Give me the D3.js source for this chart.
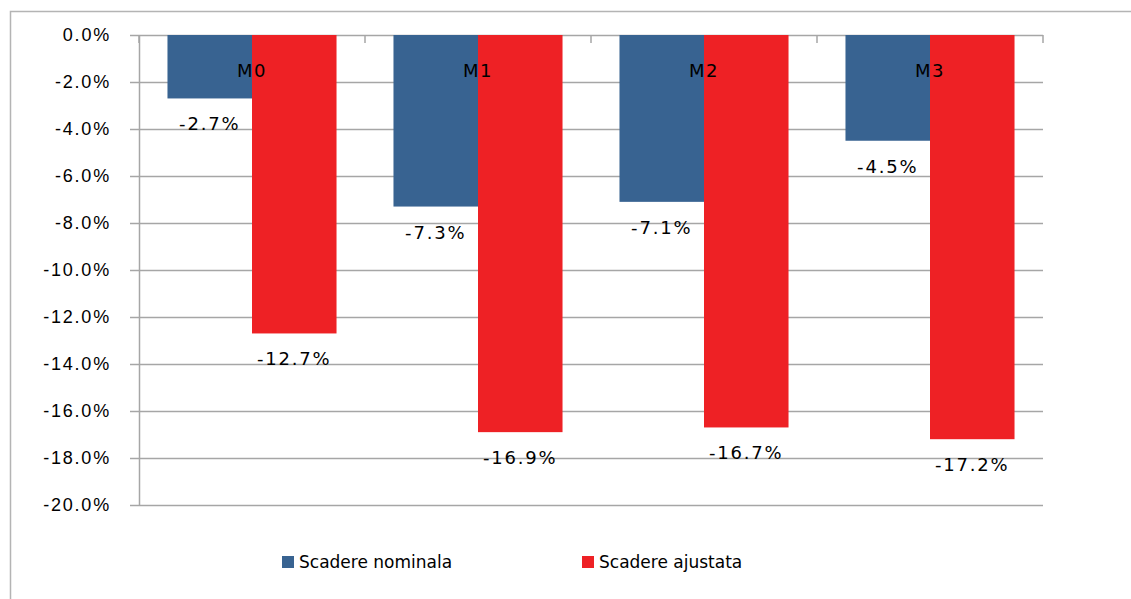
<!DOCTYPE html>
<html>
<head>
<meta charset="utf-8">
<script src="https://cdn.jsdelivr.net/npm/d3@7"></script>
<style>
  body { margin: 0; background: #fff; }
  svg { display: block; font-family: "DejaVu Sans", sans-serif; }
</style>
</head>
<body>
<div id="chart"></div>
<script>
// date grafic
const categories = ["M0", "M1", "M2", "M3"];
const seriesNames = ["Scadere nominala", "Scadere ajustata"];
const nominala = [-2.7, -7.3, -7.1, -4.5];
const ajustata = [-12.7, -16.9, -16.7, -17.2];
const yTicks = [0, -2, -4, -6, -8, -10, -12, -14, -16, -18, -20];
const colors = ["#386391", "#ee2125"];

function drawChart() {
    const width = 1131;
    const height = 599;
    const margin = { top: 35, left: 139 };
    const plotW = 904;
    const plotH = 470;

    const svg = d3.select("#chart")
        .append("svg")
        .attr("width", width)
        .attr("height", height);

    // chenar exterior
    svg.append("path")
        .attr("d", `M10.5,${height} V11.5 H${width}`)
        .attr("fill", "none")
        .attr("stroke", "#b4b4b4")
        .attr("stroke-width", 1.5);

    const g = svg.append("g")
        .attr("transform", `translate(${margin.left},${margin.top})`);

    const x0 = d3.scaleBand()
        .domain(categories)
        .range([0, plotW])
        .paddingInner(0.252)
        .paddingOuter(0.126);

    const x1 = d3.scaleBand()
        .domain(seriesNames)
        .range([0, x0.bandwidth()])
        .padding(0);

    const y = d3.scaleLinear()
        .domain([-20, 0])
        .range([plotH, 0]);

    // linii de grila
    g.append("g")
        .attr("class", "grid")
        .call(d3.axisLeft(y).tickValues(yTicks).tickSize(-plotW).tickFormat(""))
        .call(s => s.select(".domain").remove())
        .call(s => s.selectAll("line").attr("stroke", "#a6a6a6").attr("stroke-width", 1.5));

    // axa Y
    g.append("g")
        .call(d3.axisLeft(y).tickValues(yTicks).tickSize(9).tickPadding(19)
            .tickFormat(d => d.toFixed(1) + "%"))
        .call(s => s.select(".domain").attr("stroke", "#a6a6a6").attr("stroke-width", 1.5)
            .attr("d", `M0.5,0V${plotH}`))
        .call(s => s.selectAll("line").attr("stroke", "#a6a6a6").attr("stroke-width", 1.5))
        .call(s => s.selectAll("text")
            .attr("font-size", 18)
            .attr("letter-spacing", 1.8)
            .attr("fill", "#000"));

    // axa categoriilor (sus, la 0%)
    const edges = categories.map(c => x0(c) - x0.step() * x0.paddingInner() / 2)
        .concat([plotW]);
    g.append("g")
        .selectAll("line")
        .data(edges)
        .join("line")
        .attr("x1", d => d)
        .attr("x2", d => d)
        .attr("y1", y(0))
        .attr("y2", y(0) + 8)
        .attr("stroke", "#a6a6a6")
        .attr("stroke-width", 1.5);

    const groups = g.append("g")
        .selectAll("g")
        .data(categories.map((c, i) => ({ cat: c, values: [nominala[i], ajustata[i]] })))
        .join("g")
        .attr("transform", d => `translate(${x0(d.cat)},0)`);

    groups.selectAll("rect")
        .data(d => d.values.map((v, j) => ({ name: seriesNames[j], value: v, j: j })))
        .join("rect")
        .attr("x", d => x1(d.name))
        .attr("y", y(0))
        .attr("width", x1.bandwidth())
        .attr("height", d => y(d.value) - y(0))
        .attr("fill", d => colors[d.j]);

    // etichete valori
    groups.selectAll("text.val")
        .data(d => d.values.map((v, j) => ({ name: seriesNames[j], value: v })))
        .join("text")
        .attr("class", "val")
        .attr("x", d => x1(d.name) + x1.bandwidth() / 2)
        .attr("y", d => y(d.value) + 32)
        .attr("text-anchor", "middle")
        .attr("font-size", 18)
        .attr("letter-spacing", 1.8)
        .text(d => d.value.toFixed(1) + "%");

    // etichete categorii
    groups.append("text")
        .attr("x", x0.bandwidth() / 2)
        .attr("y", y(0) + 42)
        .attr("text-anchor", "middle")
        .attr("font-size", 18)
        .attr("letter-spacing", 1.5)
        .text(d => d.cat);

    // legenda
    const legendX = [282, 582];
    const legend = svg.append("g")
        .selectAll("g")
        .data(seriesNames)
        .join("g")
        .attr("transform", (d, i) => `translate(${legendX[i]},556)`);

    legend.append("rect")
        .attr("width", 12)
        .attr("height", 12)
        .attr("fill", (d, i) => colors[i]);

    legend.append("text")
        .attr("x", 17)
        .attr("y", 12)
        .attr("font-size", 17)
        .text(d => d);
}

document.addEventListener('DOMContentLoaded', () => {
    drawChart();
});
</script>
</body>
</html>
